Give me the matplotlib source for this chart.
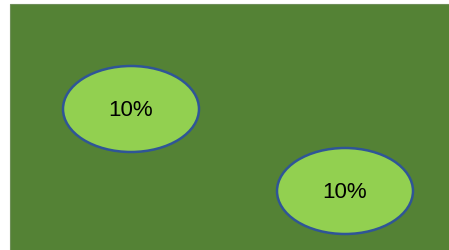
import matplotlib.pyplot as plt
from matplotlib.patches import Ellipse, Rectangle

labels = ["10%", "10%"]
centers_x = [131, 345]
centers_y = [110, 192]

fig = plt.figure(figsize=(4.49, 2.51), dpi=100)
ax = fig.add_axes([0, 0, 1, 1])
ax.set_xlim(0, 449)
ax.set_ylim(251, 0)
ax.axis('off')

# green panel
ax.add_patch(Rectangle((10, 5), 445, 250, facecolor='#548235',
                       edgecolor='#6f8f5a', linewidth=0.8))

for lab, cx, cy in zip(labels, centers_x, centers_y):
    ax.add_patch(Ellipse((cx, cy), 136, 86, facecolor='#92d050',
                         edgecolor='#2f5597', linewidth=1.8))
    ax.text(cx, cy + 1, lab, ha='center', va='center', fontsize=16,
            family='Liberation Sans', color='black')

fig.savefig('out.png', dpi=100)
